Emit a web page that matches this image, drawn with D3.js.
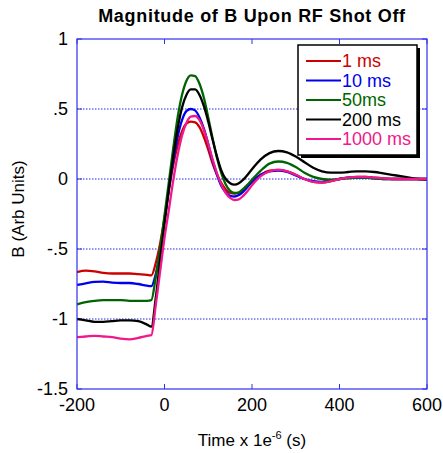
<!DOCTYPE html>
<html>
<head>
<meta charset="utf-8">
<script src="https://cdn.jsdelivr.net/npm/d3@7"></script>
<style>
body{margin:0;background:#fff}
text{font-family:"Liberation Sans",Arial,sans-serif}
</style>
</head>
<body>
<svg id="chart"></svg>
<script>
// time samples (microseconds)
var times=[-200,-180,-160,-140,-120,-100,-80,-60,-40,-30,-20,-10,0,10,20,30,40,50,60,70,80,90,100,110,120,130,140,150,160,170,180,190,200,220,240,260,280,300,320,340,360,380,400,420,440,460,480,500,520,540,560,580,600]

var b1ms=[-0.665,-0.655,-0.66,-0.67,-0.675,-0.675,-0.675,-0.68,-0.685,-0.688,-0.6,-0.46,-0.28,-0.08,0.10,0.24,0.34,0.395,0.41,0.405,0.37,0.30,0.21,0.11,0.03,-0.03,-0.075,-0.10,-0.105,-0.10,-0.08,-0.05,-0.02,0.03,0.06,0.065,0.055,0.03,0.0,-0.02,-0.025,-0.015,0.0,0.01,0.015,0.015,0.01,0.005,0.0,0.0,0.0,0.0,0.0]
var b10ms=[-0.757,-0.745,-0.735,-0.733,-0.74,-0.743,-0.743,-0.75,-0.762,-0.765,-0.68,-0.52,-0.30,-0.07,0.13,0.30,0.42,0.485,0.50,0.49,0.44,0.36,0.25,0.13,0.03,-0.05,-0.095,-0.12,-0.125,-0.115,-0.09,-0.055,-0.02,0.03,0.055,0.06,0.05,0.025,0.0,-0.015,-0.02,-0.01,0.0,0.01,0.01,0.01,0.005,0.0,0.0,0.0,0.0,0.0,0.0]
var b50ms=[-0.895,-0.88,-0.87,-0.865,-0.865,-0.865,-0.87,-0.87,-0.87,-0.865,-0.70,-0.50,-0.26,-0.02,0.22,0.44,0.60,0.70,0.74,0.735,0.68,0.58,0.44,0.29,0.15,0.04,-0.04,-0.085,-0.10,-0.095,-0.07,-0.04,-0.005,0.06,0.11,0.125,0.115,0.085,0.045,0.015,0.0,-0.005,0.0,0.005,0.01,0.01,0.005,0.0,0.0,0.0,0.0,0.0,0.0]
var b200ms=[-1.0,-1.01,-1.02,-1.02,-1.015,-1.01,-1.01,-1.015,-1.04,-1.055,-0.85,-0.58,-0.32,-0.07,0.16,0.36,0.51,0.60,0.64,0.64,0.60,0.52,0.41,0.28,0.16,0.06,0.0,-0.03,-0.04,-0.03,-0.005,0.03,0.07,0.14,0.185,0.20,0.19,0.16,0.12,0.08,0.055,0.045,0.045,0.05,0.055,0.055,0.05,0.04,0.03,0.02,0.01,0.0,-0.005]
var b1000ms=[-1.13,-1.125,-1.12,-1.125,-1.13,-1.14,-1.145,-1.135,-1.12,-1.115,-0.90,-0.66,-0.42,-0.22,-0.01,0.17,0.31,0.40,0.445,0.45,0.42,0.35,0.25,0.14,0.04,-0.04,-0.10,-0.135,-0.15,-0.145,-0.12,-0.085,-0.045,0.02,0.055,0.065,0.055,0.03,0.0,-0.02,-0.025,-0.015,0.0,0.01,0.015,0.015,0.01,0.005,0.0,0.0,0.0,0.0,0.0]

var seriesNames=["1 ms","10 ms","50ms","200 ms","1000 ms"]
var seriesColors=["#cc0000","#0000ee","#006400","#000000","#f0188c"]
var seriesValues=[b1ms,b10ms,b50ms,b200ms,b1000ms]

var xTicks=[-200,0,200,400,600]
var yTicks=[1,0.5,0,-0.5,-1,-1.5]
var yTickLabels=["1",".5","0","-.5","-1","-1.5"]
var gridValues=[0.5,0,-0.5,-1]

var screen={width:443,height:453}
var margins={left:77,right:16,top:39,bottom:64}
var graph={
    width:screen.width-margins.left-margins.right,
    height:screen.height-margins.top-margins.bottom
}

var svg=d3.select("#chart")
    .attr("width",screen.width)
    .attr("height",screen.height)

var xScale=d3.scaleLinear().domain([-200,600]).range([0,graph.width])
var yScale=d3.scaleLinear().domain([-1.5,1]).range([graph.height,0])

var plot=svg.append("g")
    .attr("transform","translate("+margins.left+","+margins.top+")")

//grid
plot.selectAll(".grid")
    .data(gridValues)
    .enter()
    .append("line")
    .attr("x1",0)
    .attr("x2",graph.width)
    .attr("y1",function(d){return yScale(d)})
    .attr("y2",function(d){return yScale(d)})
    .attr("stroke","#2a2ae0")
    .attr("stroke-width",1)
    .attr("stroke-dasharray","1.5,1.5")

//ticks inside the box
var axisColor="#3030f0"
plot.selectAll(".xt")
    .data(xTicks)
    .enter()
    .append("path")
    .attr("d",function(d){
        var x=xScale(d)
        return "M"+x+",0V5M"+x+","+graph.height+"V"+(graph.height-5)
    })
    .attr("stroke",axisColor)
plot.selectAll(".yt")
    .data(yTicks)
    .enter()
    .append("path")
    .attr("d",function(d){
        var y=yScale(d)
        return "M0,"+y+"H5M"+graph.width+","+y+"H"+(graph.width-5)
    })
    .attr("stroke",axisColor)

//lines
var lineGenerator=d3.line()
    .x(function(d,i){return xScale(times[i])})
    .y(function(d){return yScale(d)})
    .curve(d3.curveMonotoneX)

plot.selectAll(".series")
    .data(seriesValues)
    .enter()
    .append("path")
    .attr("d",lineGenerator)
    .attr("fill","none")
    .attr("stroke",function(d,i){return seriesColors[i]})
    .attr("stroke-width",2.3)
    .attr("stroke-linejoin","round")

//box
plot.append("rect")
    .attr("width",graph.width)
    .attr("height",graph.height)
    .attr("fill","none")
    .attr("stroke",axisColor)
    .attr("stroke-width",1.2)

//tick labels
svg.append("g").selectAll("text")
    .data(xTicks)
    .enter()
    .append("text")
    .attr("x",function(d){return margins.left+xScale(d)})
    .attr("y",margins.top+graph.height+22)
    .attr("text-anchor","middle")
    .attr("font-size",18)
    .text(function(d){return d})
svg.append("g").selectAll("text")
    .data(yTicks)
    .enter()
    .append("text")
    .attr("x",margins.left-9)
    .attr("y",function(d){return margins.top+yScale(d)})
    .attr("dy","0.35em")
    .attr("text-anchor","end")
    .attr("font-size",18)
    .text(function(d,i){return yTickLabels[i]})

//labels
svg.append("text")
    .attr("x",margins.left+graph.width/2)
    .attr("y",22)
    .attr("text-anchor","middle")
    .attr("font-size",18)
    .attr("font-weight","bold")
    .attr("letter-spacing",0.7)
    .text("Magnitude of B Upon RF Shot Off")

var xl=svg.append("text")
    .attr("x",margins.left+graph.width/2)
    .attr("y",446)
    .attr("text-anchor","middle")
    .attr("font-size",17)
xl.append("tspan").text("Time x 1e")
xl.append("tspan").attr("dy",-7).attr("font-size",11).text("-6")
xl.append("tspan").attr("dy",7).text(" (s)")

svg.append("g")
    .attr("transform","translate(24,"+(margins.top+graph.height/2-5)+")")
    .append("text")
    .attr("transform","rotate(-90)")
    .attr("text-anchor","middle")
    .attr("font-size",17)
    .text("B (Arb Units)")

//legend
var legend=svg.append("g").attr("transform","translate(298,45)")
legend.append("rect")
    .attr("x",3).attr("y",3)
    .attr("width",119).attr("height",110)
    .attr("fill","#000")
legend.append("rect")
    .attr("width",119).attr("height",110)
    .attr("fill","#fff")
    .attr("stroke","#000")
    .attr("stroke-width",1.5)
var rows=legend.selectAll(".row")
    .data(seriesNames)
    .enter()
    .append("g")
    .attr("transform",function(d,i){return "translate(0,"+(16+i*19.5)+")"})
rows.append("line")
    .attr("x1",8).attr("x2",43)
    .attr("stroke",function(d,i){return seriesColors[i]})
    .attr("stroke-width",2)
rows.append("text")
    .attr("x",44)
    .attr("dy","0.36em")
    .attr("font-size",18)
    .attr("fill",function(d,i){return seriesColors[i]})
    .text(function(d){return d})
</script>
</body>
</html>
